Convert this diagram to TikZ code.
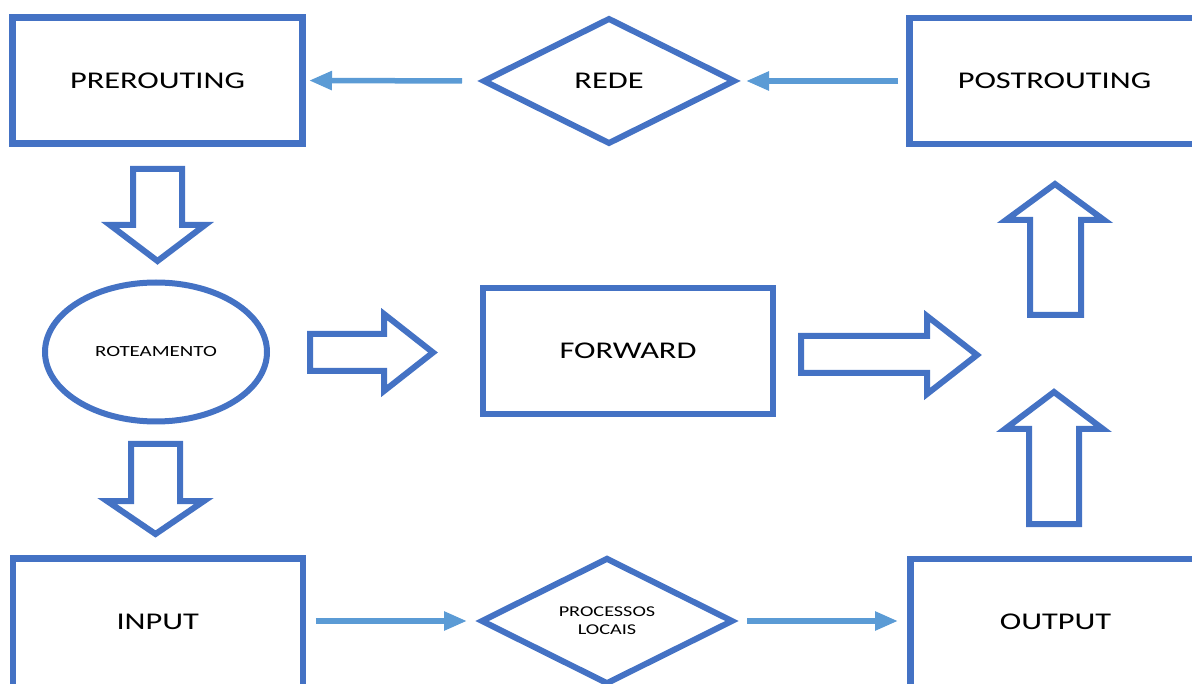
\documentclass[tikz,border=0pt]{standalone}
\usepackage{fontspec}
\newfontfamily\labelfont[FakeStretch=1.35]{Carlito}
\usetikzlibrary{arrows.meta,shapes.geometric}
\definecolor{frameblue}{HTML}{4472C4}
\definecolor{linkblue}{HTML}{5B9BD5}
\tikzset{
  chainbox/.style={draw=frameblue, line width=6.5pt, minimum width=290pt,
    minimum height=126pt, inner sep=0pt, outer sep=0pt,
    font=\labelfont\fontsize{24}{28}\selectfont},
  gate/.style={diamond, draw=frameblue, line width=6pt, minimum width=250pt,
    minimum height=124pt, inner sep=0pt, outer sep=0pt, align=center},
  link/.style={draw=linkblue, line width=5.5pt,
    -{Triangle[length=23pt,width=18pt]}},
  bigarrow/.style={draw=frameblue, line width=6pt, line join=miter, fill=white},
}
\begin{document}
\begin{tikzpicture}[x=1pt,y=-1pt]
\useasboundingbox (0,0) rectangle (1192,684);
\clip (0,0) rectangle (1192,684);

% netfilter chains
\node[chainbox] (pre)  at (157.5,80.5) {PREROUTING};
\node[chainbox] (post) at (1054.5,81)  {POSTROUTING};
\node[chainbox] (fwd)  at (628,351)    {FORWARD};
\node[chainbox, minimum height=140pt] (in)  at (157.75,628.5) {};
\node[chainbox, minimum height=140pt] (out) at (1055.5,629)   {};
\node[font=\labelfont\fontsize{24}{28}\selectfont] (intext)  at (157.75,621.5) {INPUT};
\node[font=\labelfont\fontsize{24}{28}\selectfont] (outtext) at (1055.5,622)   {OUTPUT};

% network side and local processes
\node[gate, font=\labelfont\fontsize{24}{28}\selectfont] (rede) at (609,81) {REDE};
\node[gate, font=\labelfont\fontsize{15}{18}\selectfont] (proc) at (607,621) {PROCESSOS\\LOCAIS};

% routing decision
\node[ellipse, draw=frameblue, line width=6pt, minimum width=222pt,
  minimum height=139pt, inner sep=0pt, outer sep=0pt,
  font=\labelfont\fontsize{15.5}{18}\selectfont] (rot) at (156,352) {ROTEAMENTO};

% block arrows between the stages
\draw[bigarrow] (133,169) -- (182,169) -- (182,225) -- (205,225) -- (157.5,261)
  -- (110,225) -- (133,225) -- cycle;
\draw[bigarrow] (131,444) -- (180,444) -- (180,501) -- (204,501) -- (155.5,534)
  -- (107,501) -- (131,501) -- cycle;
\draw[bigarrow] (310,334) -- (384,334) -- (384,314) -- (433,352.5) -- (384,391)
  -- (384,371) -- (310,371) -- cycle;
\draw[bigarrow] (801,336) -- (927,336) -- (927,316) -- (977,355) -- (927,394)
  -- (927,373) -- (801,373) -- cycle;
\draw[bigarrow] (1030,315) -- (1030,220) -- (1006,220) -- (1055,184) -- (1104,220)
  -- (1081,220) -- (1081,315) -- cycle;
\draw[bigarrow] (1029,524) -- (1029,429) -- (1005,429) -- (1054,392) -- (1103,429)
  -- (1079,429) -- (1079,524) -- cycle;

% packet flow
\draw[link, shorten <=22pt, shorten >=6.5pt] (rede.west) -- (pre.east);
\draw[link, shorten <=11.5pt, shorten >=12pt] (post.west) -- (rede.east);
\draw[link, shorten <=13pt, shorten >=15pt] (in.east |- proc.west) -- (proc.west);
\draw[link, shorten <=15pt, shorten >=12.5pt] (proc.east) -- (out.west |- proc.east);
\end{tikzpicture}
\end{document}
